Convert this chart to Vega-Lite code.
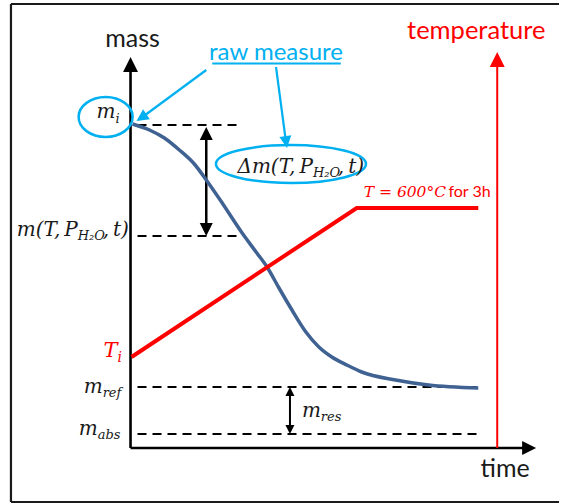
{
  "$schema": "https://vega.github.io/schema/vega-lite/v6.json",
  "width": 561,
  "height": 504,
  "autosize": {"type": "fit", "contains": "padding"},
  "padding": 0,
  "background": "white",
  "view": {"stroke": null},
  "datasets": {
    "frame": [{"x": 11, "y": 4, "x2": 561, "y2": 4}, {"x": 11, "y": 4, "x2": 11, "y2": 502}, {"x": 11, "y": 502, "x2": 561, "y2": 502}],
    "axes": [{"x": 131, "y": 448, "x2": 131, "y2": 66}, {"x": 131, "y": 448, "x2": 527, "y2": 448}],
    "tempAxis": [{"x": 499, "y": 448, "x2": 499, "y2": 64}],
    "headUp": [{"x": 131, "y": 64.5}],
    "headRight": [{"x": 531, "y": 448}],
    "redHead": [{"x": 499, "y": 59.5}],
    "dashes": [{"x": 138, "y": 125, "x2": 241, "y2": 125}, {"x": 138, "y": 236, "x2": 241, "y2": 236}, {"x": 138, "y": 387, "x2": 480, "y2": 387}, {"x": 138, "y": 434, "x2": 480, "y2": 434}],
    "bigArrows": [{"x": 207, "y": 136, "x2": 207, "y2": 226}],
    "bigUp": [{"x": 207, "y": 133.5}],
    "bigDown": [{"x": 207, "y": 229.5}],
    "smallArrows": [{"x": 291, "y": 393, "x2": 291, "y2": 428}],
    "smallUp": [{"x": 291, "y": 391.5}],
    "smallDown": [{"x": 291, "y": 429.5}],
    "temperature": [{"x": 132, "y": 357}, {"x": 358, "y": 208}, {"x": 480, "y": 208}],
    "mass": [
      {"x": 133, "y": 124}, {"x": 150, "y": 130}, {"x": 165, "y": 138}, {"x": 180, "y": 150}, {"x": 195, "y": 164},
      {"x": 207, "y": 180}, {"x": 223, "y": 203}, {"x": 243, "y": 233}, {"x": 257, "y": 252}, {"x": 268, "y": 267},
      {"x": 280, "y": 288}, {"x": 293, "y": 310}, {"x": 307, "y": 332}, {"x": 320, "y": 347}, {"x": 333, "y": 357},
      {"x": 348, "y": 365}, {"x": 363, "y": 372}, {"x": 397, "y": 380}, {"x": 430, "y": 385}, {"x": 480, "y": 388}
    ],
    "cyanLines": [{"x": 207, "y": 70, "x2": 143, "y2": 117}, {"x": 277, "y": 67, "x2": 287, "y2": 142}, {"x": 213, "y": 63.5, "x2": 342, "y2": 63.5}],
    "cyanHead1": [{"x": 142, "y": 117.6}],
    "cyanHead2": [{"x": 287.2, "y": 142}],
    "ellipseMi": [{"x": 106, "y": 117}],
    "ellipseDm": [{"x": 292, "y": 164}],
    "sansBlack": [{"x": 133, "y": 47, "t": "mass"}, {"x": 507, "y": 477, "t": "time"}],
    "sansRed": [{"x": 478, "y": 39, "t": "temperature"}],
    "sansCyan": [{"x": 277, "y": 60, "t": "raw measure"}],
    "mathMain": [{"x": 116, "y": 118, "t": "m"}, {"x": 78, "y": 236, "t": "m(T,\u2009P"}, {"x": 314, "y": 173, "t": "Δm(T,\u2009P"}, {"x": 103, "y": 393, "t": "m"}, {"x": 98, "y": 435, "t": "m"}, {"x": 322, "y": 417, "t": "m"}],
    "mathSub": [{"x": 116, "y": 123, "t": "i"}, {"x": 78, "y": 240, "t": "H₂O"}, {"x": 314, "y": 177, "t": "H₂O"}, {"x": 103, "y": 397, "t": "ref"}, {"x": 98, "y": 439, "t": "abs"}, {"x": 322, "y": 421, "t": "res"}],
    "mathSuffix": [{"x": 103, "y": 236, "t": ",\u2009t)"}, {"x": 339, "y": 173, "t": ",\u2009t)"}],
    "redMain": [{"x": 118, "y": 357, "t": "T"}],
    "redSub": [{"x": 118, "y": 362, "t": "i"}],
    "redNote": [{"x": 365, "y": 197, "t": "T = 600°C"}],
    "redNoteSans": [{"x": 450, "y": 197, "t": "for 3h"}]
  },
  "encoding": {
    "x": {"field": "x", "type": "quantitative", "scale": {"domain": [0, 561], "nice": false, "zero": false}, "axis": null},
    "y": {"field": "y", "type": "quantitative", "scale": {"domain": [0, 504], "nice": false, "zero": false, "reverse": true}, "axis": null}
  },
  "layer": [
    {"data": {"name": "frame"}, "mark": {"type": "rule", "color": "#1a1a1a", "strokeWidth": 2.2}, "encoding": {"x2": {"field": "x2"}, "y2": {"field": "y2"}}},
    {"data": {"name": "dashes"}, "mark": {"type": "rule", "color": "black", "strokeWidth": 2, "strokeDash": [9, 6]}, "encoding": {"x2": {"field": "x2"}, "y2": {"field": "y2"}}},
    {"data": {"name": "axes"}, "mark": {"type": "rule", "color": "black", "strokeWidth": 2.6}, "encoding": {"x2": {"field": "x2"}, "y2": {"field": "y2"}}},
    {"data": {"name": "headUp"}, "mark": {"type": "point", "shape": "M0,-1L-1,1L1,1Z", "size": 225, "filled": true, "color": "black", "opacity": 1}},
    {"data": {"name": "headRight"}, "mark": {"type": "point", "shape": "M1,0L-1,-1L-1,1Z", "size": 196, "filled": true, "color": "black", "opacity": 1}},
    {"data": {"name": "tempAxis"}, "mark": {"type": "rule", "color": "#FF0000", "strokeWidth": 2}, "encoding": {"x2": {"field": "x2"}, "y2": {"field": "y2"}}},
    {"data": {"name": "redHead"}, "mark": {"type": "point", "shape": "M0,-1L-1,1L1,1Z", "size": 225, "filled": true, "color": "#FF0000", "opacity": 1}},
    {"data": {"name": "bigArrows"}, "mark": {"type": "rule", "color": "black", "strokeWidth": 2.5}, "encoding": {"x2": {"field": "x2"}, "y2": {"field": "y2"}}},
    {"data": {"name": "bigUp"}, "mark": {"type": "point", "shape": "M0,-1L-1,1L1,1Z", "size": 169, "filled": true, "color": "black", "opacity": 1}},
    {"data": {"name": "bigDown"}, "mark": {"type": "point", "shape": "M0,1L-1,-1L1,-1Z", "size": 169, "filled": true, "color": "black", "opacity": 1}},
    {"data": {"name": "smallArrows"}, "mark": {"type": "rule", "color": "black", "strokeWidth": 2}, "encoding": {"x2": {"field": "x2"}, "y2": {"field": "y2"}}},
    {"data": {"name": "smallUp"}, "mark": {"type": "point", "shape": "M0,-1L-1,1L1,1Z", "size": 81, "filled": true, "color": "black", "opacity": 1}},
    {"data": {"name": "smallDown"}, "mark": {"type": "point", "shape": "M0,1L-1,-1L1,-1Z", "size": 81, "filled": true, "color": "black", "opacity": 1}},
    {"data": {"name": "mass"}, "mark": {"type": "line", "color": "#3F6293", "strokeWidth": 3.5, "interpolate": "monotone"}},
    {"data": {"name": "temperature"}, "mark": {"type": "line", "color": "#FF0000", "strokeWidth": 4}},
    {"data": {"name": "cyanLines"}, "mark": {"type": "rule", "color": "#00B0F0", "strokeWidth": 2.2}, "encoding": {"x2": {"field": "x2"}, "y2": {"field": "y2"}}},
    {"data": {"name": "cyanHead1"}, "mark": {"type": "point", "shape": "M0,-1L-1,1L1,1Z", "size": 144, "angle": 236, "filled": true, "color": "#00B0F0", "opacity": 1}},
    {"data": {"name": "cyanHead2"}, "mark": {"type": "point", "shape": "M0,-1L-1,1L1,1Z", "size": 144, "angle": 172, "filled": true, "color": "#00B0F0", "opacity": 1}},
    {"data": {"name": "ellipseMi"}, "mark": {"type": "point", "shape": "M-1,0A1,0.74,0,1,0,1,0A1,0.74,0,1,0,-1,0Z", "size": 2916, "filled": false, "stroke": "#00B0F0", "strokeWidth": 2.5, "opacity": 1}},
    {"data": {"name": "ellipseDm"}, "mark": {"type": "point", "shape": "M-1,0A1,0.253,0,1,0,1,0A1,0.253,0,1,0,-1,0Z", "size": 22500, "filled": false, "stroke": "#00B0F0", "strokeWidth": 2.5, "opacity": 1}},
    {"data": {"name": "sansBlack"}, "mark": {"type": "text", "font": "Lato", "fontSize": 25, "color": "#1a1a1a", "align": "center", "baseline": "alphabetic"}, "encoding": {"text": {"field": "t"}}},
    {"data": {"name": "sansRed"}, "mark": {"type": "text", "font": "Lato", "fontSize": 25.5, "color": "#FF0000", "align": "center", "baseline": "alphabetic"}, "encoding": {"text": {"field": "t"}}},
    {"data": {"name": "sansCyan"}, "mark": {"type": "text", "font": "Lato", "fontSize": 24, "color": "#00B0F0", "align": "center", "baseline": "alphabetic"}, "encoding": {"text": {"field": "t"}}},
    {"data": {"name": "mathMain"}, "mark": {"type": "text", "font": "DejaVu Serif", "fontStyle": "italic", "fontSize": 20, "color": "#1a1a1a", "align": "right", "baseline": "alphabetic"}, "encoding": {"text": {"field": "t"}}},
    {"data": {"name": "mathSub"}, "mark": {"type": "text", "font": "DejaVu Serif", "fontStyle": "italic", "fontSize": 13, "color": "#1a1a1a", "align": "left", "baseline": "alphabetic"}, "encoding": {"text": {"field": "t"}}},
    {"data": {"name": "mathSuffix"}, "mark": {"type": "text", "font": "DejaVu Serif", "fontStyle": "italic", "fontSize": 20, "color": "#1a1a1a", "align": "left", "baseline": "alphabetic"}, "encoding": {"text": {"field": "t"}}},
    {"data": {"name": "redMain"}, "mark": {"type": "text", "font": "DejaVu Serif", "fontStyle": "italic", "fontSize": 21, "color": "#FF0000", "align": "right", "baseline": "alphabetic"}, "encoding": {"text": {"field": "t"}}},
    {"data": {"name": "redSub"}, "mark": {"type": "text", "font": "DejaVu Serif", "fontStyle": "italic", "fontSize": 14, "color": "#FF0000", "align": "left", "baseline": "alphabetic"}, "encoding": {"text": {"field": "t"}}},
    {"data": {"name": "redNote"}, "mark": {"type": "text", "font": "DejaVu Serif", "fontStyle": "italic", "fontSize": 15.5, "color": "#FF0000", "align": "left", "baseline": "alphabetic"}, "encoding": {"text": {"field": "t"}}},
    {"data": {"name": "redNoteSans"}, "mark": {"type": "text", "font": "Lato", "fontSize": 16, "color": "#FF0000", "align": "left", "baseline": "alphabetic"}, "encoding": {"text": {"field": "t"}}}
  ]
}
